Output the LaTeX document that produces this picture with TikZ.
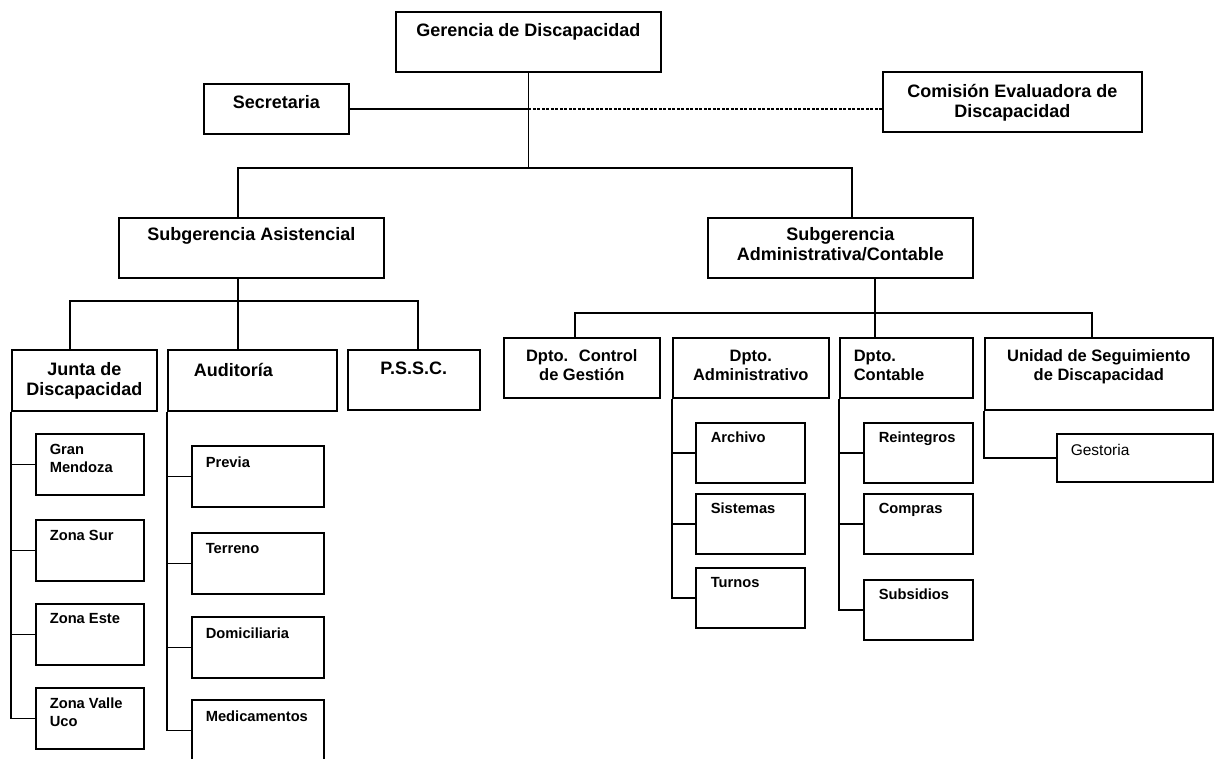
\documentclass[tikz,border=0pt]{standalone}
\usepackage{fontspec}
\setmainfont{Liberation Sans}

\newcommand\headfont{\fontsize{18pt}{20pt}\selectfont\bfseries}
\newcommand\deptfont{\fontsize{16.5pt}{19pt}\selectfont\bfseries}
\newcommand\leaffont{\fontsize{14.7pt}{18pt}\selectfont\bfseries}
\newcommand\gestfont{\fontsize{15.5pt}{18pt}\selectfont}

\tikzset{
  unit/.style n args={3}{draw, inner sep=0pt, anchor=north west, font=\headfont,
    execute at begin node={\begin{minipage}[t][#2][t]{#1}\vspace*{#3}\centering},
    execute at end node={\end{minipage}}},
  leaf/.style n args={4}{draw, inner sep=0pt, anchor=north west, font=\leaffont,
    execute at begin node={\begin{minipage}[t][#2][t]{#1}\vspace*{#3}\raggedright\leftskip=#4\relax},
    execute at end node={\end{minipage}}},
  dashlink/.style={dash pattern=on 3pt off 1.5pt},
}

\begin{document}
\begin{tikzpicture}[x=1pt, y=-1pt, line width=1.6pt]
  \useasboundingbox (0,0) rectangle (1216,758);

  \node[unit={265pt}{60pt}{12pt}] (gerencia) at (395,11) {Gerencia de Discapacidad};
  \node[unit={145pt}{50pt}{12pt}] (secr) at (203,83) {Secretaria};
  \node[unit={259pt}{60pt}{12pt}] (comision) at (882,71) {Comisión Evaluadora de\\Discapacidad};
  \node[unit={265pt}{60pt}{10pt}] (asist) at (118,217) {Subgerencia Asistencial};
  \node[unit={265pt}{60pt}{10pt}] (admin) at (707,217) {Subgerencia\\Administrativa/Contable};

  \node[unit={145pt}{61pt}{13pt}] (junta) at (11,349) {Junta de\\Discapacidad};
  \node[leaf={169pt}{61pt}{13pt}{26pt}, font=\headfont] (audit) at (167,349) {Auditoría};
  \node[unit={132pt}{60pt}{12pt}] (pssc) at (347,349) {P.S.S.C.};

  \node[unit={156pt}{60pt}{12pt}, font=\deptfont] (control) at (503,337) {Dpto.~ Control\\de Gestión};
  \node[unit={156pt}{60pt}{12pt}, font=\deptfont] (dadmin) at (672,337) {Dpto.\\Administrativo};
  \node[leaf={133pt}{60pt}{12pt}{14pt}, font=\deptfont] (contable) at (839,337) {Dpto.\\Contable};
  \node[unit={228pt}{72pt}{12pt}, font=\deptfont] (unidad) at (984,337) {Unidad de Seguimiento\\de Discapacidad};

  \foreach \id/\y/\txt in {gm/433/{Gran\\Mendoza}, zs/519/{Zona Sur}, ze/603/{Zona Este}, zvu/687/{Zona Valle\\Uco}}
    \node[leaf={108pt}{61pt}{10pt}{14pt}] (\id) at (35,\y) {\txt};
  \foreach \id/\y/\txt in {previa/445/Previa, terreno/532/Terreno, domic/616/Domiciliaria, medic/699/Medicamentos}
    \node[leaf={132pt}{61pt}{11pt}{14pt}] (\id) at (191,\y) {\txt};
  \foreach \id/\y/\txt in {archivo/422/Archivo, sistemas/493/Sistemas, turnos/567/Turnos}
    \node[leaf={109pt}{60pt}{9.5pt}{15pt}] (\id) at (695,\y) {\txt};
  \foreach \id/\y/\txt in {reint/422/Reintegros, compras/493/Compras, subsid/579/Subsidios}
    \node[leaf={109pt}{60pt}{9.5pt}{15pt}] (\id) at (863,\y) {\txt};
  \node[leaf={156pt}{48pt}{10pt}{14pt}, font=\gestfont] (gestoria) at (1056,433) {Gestoria};

  \coordinate (asistjoint) at (238,168);
  \coordinate (adminjoint) at (852,168);
  \coordinate (asistbus) at (238,301);
  \coordinate (juntajoint) at (70,301);
  \coordinate (pssjoint) at (418,301);
  \coordinate (adminbus) at (875,313);
  \coordinate (controljoint) at (575,313);
  \coordinate (unidadjoint) at (1092,313);

  \draw (gerencia.south) -- (gerencia.south |- asistjoint);
  \draw (secr.east) -- (secr.east -| gerencia.south);
  \draw[dashlink] (secr.east -| gerencia.south) -- (secr.east -| comision.west);
  \draw (asistjoint |- asist.north) -- (asistjoint) -- (adminjoint) -- (adminjoint |- admin.north);

  \draw (asistbus |- asist.south) -- (asistbus |- audit.north);
  \draw (juntajoint |- junta.north) -- (juntajoint) -- (pssjoint) -- (pssjoint |- pssc.north);
  \draw (adminbus |- admin.south) -- (adminbus |- contable.north);
  \draw (controljoint |- control.north) -- (controljoint) -- (unidadjoint) -- (unidadjoint |- unidad.north);

  \draw (junta.south west) |- (zvu.west);
  \foreach \c in {gm,zs,ze} \draw (junta.south west |- \c.west) -- (\c.west);
  \draw (audit.south west) |- (medic.west);
  \foreach \c in {previa,terreno,domic} \draw (audit.south west |- \c.west) -- (\c.west);
  \draw (dadmin.south west) |- (turnos.west);
  \foreach \c in {archivo,sistemas} \draw (dadmin.south west |- \c.west) -- (\c.west);
  \draw (contable.south west) |- (subsid.west);
  \foreach \c in {reint,compras} \draw (contable.south west |- \c.west) -- (\c.west);
  \draw (unidad.south west) |- (gestoria.west);
\end{tikzpicture}
\end{document}
